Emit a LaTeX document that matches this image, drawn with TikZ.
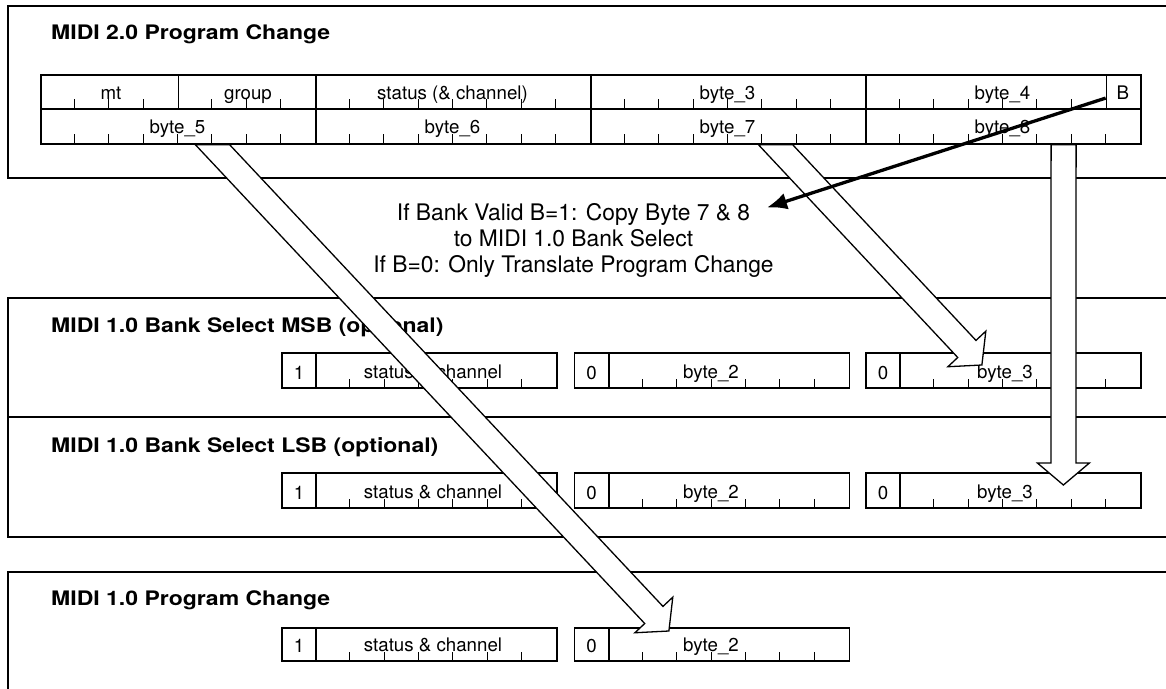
\documentclass[tikz,border=0pt]{standalone}
\usepackage{fontspec}
\setmainfont{TeX Gyre Heros}
\newfontfamily\titlefont[FakeStretch=1.15]{TeX Gyre Heros}
\usetikzlibrary{calc,arrows.meta}

\newcommand\bankseg[7]{% #1 name, #2 x, #3 top, #4 height, #5 bit text, #6 label, #7 label x
  \node[cell, minimum width=34.375pt, minimum height=#4pt] (#1a) at (#2,#3) {};
  \node[cell, minimum width=240.625pt, minimum height=#4pt] (#1b) at (#2+34.375,#3) {};
  \node[lbl] (#1at) at ($(#1a.south)+(0,-9)$) {#5};
  \node[lbl] (#1bt) at (#7,#3+#4-9) {#6};
  \foreach \k in {1,...,6} \draw[tickmark] (#2+34.375+34.375*\k,#3+#4) -- ++(0,-8);
}

\newcommand\fatarrow[2]{%
  \coordinate (fa-s) at #1;
  \coordinate (fa-t) at #2;
  \coordinate (fa-h) at ($(fa-t)!22pt!(fa-s)$);
  \coordinate (fa-l1) at ($(fa-s)!12.5pt!90:(fa-t)$);
  \coordinate (fa-l2) at ($(fa-h)!12.5pt!90:(fa-t)$);
  \coordinate (fa-r1) at ($(fa-s)!12.5pt!-90:(fa-t)$);
  \coordinate (fa-r2) at ($(fa-h)!12.5pt!-90:(fa-t)$);
  \coordinate (fa-e1) at ($(fa-s)+(-60,0)$);
  \coordinate (fa-e2) at ($(fa-s)+(60,0)$);
  \coordinate (fa-L) at (intersection of fa-l1--fa-l2 and fa-e1--fa-e2);
  \coordinate (fa-R) at (intersection of fa-r1--fa-r2 and fa-e1--fa-e2);
  \draw[hollow] (fa-L) -- (fa-l2) -- ($(fa-h)!26pt!90:(fa-t)$) -- (fa-t)
     -- ($(fa-h)!26pt!-90:(fa-t)$) -- (fa-r2) -- (fa-R) -- cycle;
}

\begin{document}
\begin{tikzpicture}[x=1pt,y=-1pt,
  boxframe/.style={draw=black, line width=1.5pt, inner sep=0pt, anchor=north west},
  cell/.style={draw=black, line width=1.8pt, inner sep=0pt, anchor=north west, minimum height=34.4pt},
  tickmark/.style={draw=black, line width=0.8pt},
  lbl/.style={font=\fontsize{18.7}{20}\selectfont, anchor=base, inner sep=0pt},
  ttl/.style={font=\titlefont\bfseries\fontsize{20}{22}\selectfont, anchor=base west, inner sep=0pt},
  note/.style={font=\fontsize{22.8}{26}\selectfont, align=center, inner sep=0pt},
  hollow/.style={draw=black, fill=white, line width=1.3pt, line join=miter},
  bline/.style={line width=3.3pt, -{Latex[length=20pt,width=17pt]}},
]
\useasboundingbox (0,0) rectangle (1166,688);
\clip (0,0) rectangle (1166,688);

% containers
\node[boxframe, minimum width=1180pt, minimum height=172pt] (g1) at (7,5) {};
\node[boxframe, minimum width=1180pt, minimum height=119pt] (g2) at (7,297) {};
\node[boxframe, minimum width=1180pt, minimum height=120pt] (g3) at (7,416) {};
\node[boxframe, minimum width=1180pt, minimum height=140pt] (g4) at (7,571) {};

% titles
\node[ttl] (t1) at (51,39) {MIDI 2.0 Program Change};
\node[ttl] (t2) at (51,332) {MIDI 1.0 Bank Select MSB (optional)};
\node[ttl] (t3) at (51,452) {MIDI 1.0 Bank Select LSB (optional)};
\node[ttl] (t4) at (51,605) {MIDI 1.0 Program Change};

% MIDI 2.0 packet
\node[cell, minimum width=137.5pt] (mt) at (40,74) {};
\node[cell, minimum width=137.5pt] (grp) at (177.5,74) {};
\node[cell, minimum width=275pt] (st) at (315,74) {};
\node[cell, minimum width=275pt] (b3) at (590,74) {};
\node[cell, minimum width=240.625pt] (b4) at (865,74) {};
\node[cell, minimum width=34.375pt] (B) at (1105.625,74) {};
\node[cell, minimum width=275pt] (b5) at (40,108.4) {};
\node[cell, minimum width=275pt] (b6) at (315,108.4) {};
\node[cell, minimum width=275pt] (b7) at (590,108.4) {};
\node[cell, minimum width=275pt] (b8) at (865,108.4) {};

\foreach \k in {1,2,3,5,6,7,9,10,11,12,13,14,15,17,18,19,20,21,22,23,25,26,27,28,29,30}
  \draw[tickmark] ({40+34.375*\k},108.4) -- ++(0,-9);
\foreach \k in {1,2,3,4,5,6,7,9,10,11,12,13,14,15,17,18,19,20,21,22,23,25,26,27,28,29,30,31}
  \draw[tickmark] ({40+34.375*\k},142.8) -- ++(0,-9);

\node[lbl] (mtl) at (111,99.4) {mt};
\node[lbl] (grpl) at (248,99.4) {group};
\node[lbl] (stl) at (452.5,99.4) {status (\& channel)};
\node[lbl] (b3l) at (727.5,99.4) {byte\_3};
\node[lbl] (b4l) at (1002.5,99.4) {byte\_4};
\node[lbl] (Bl) at (1122.8,99.4) {B};
\node[lbl] (b5l) at (177.5,133.8) {byte\_5};
\node[lbl] (b6l) at (452.5,133.8) {byte\_6};
\node[lbl] (b7l) at (727.5,133.8) {byte\_7};
\node[lbl] (b8l) at (1002.5,133.8) {byte\_8};

% note
\node[note] (note) at (573.5,240) {If Bank Valid B=1: Copy Byte 7 \& 8\\to MIDI 1.0 Bank Select\\If B=0: Only Translate Program Change};

% MIDI 1.0 rows
\bankseg{msb1}{281}{352}{35}{1}{status \& channel}{433}
\bankseg{msb2}{573.5}{352}{35}{0}{byte\_2}{711}
\bankseg{msb3}{865}{352}{35}{0}{byte\_3}{1005}
\bankseg{lsb1}{281}{472}{35}{1}{status \& channel}{433}
\bankseg{lsb2}{573.5}{472}{35}{0}{byte\_2}{711}
\bankseg{lsb3}{865}{472}{35}{0}{byte\_3}{1005}
\bankseg{pc1}{281}{627}{33}{1}{status \& channel}{433}
\bankseg{pc2}{573.5}{627}{33}{0}{byte\_2}{711}

% hollow arrows
\fatarrow{([xshift=34pt]b5.south)}{([xshift=-60.2pt,yshift=-4pt]pc2b.north)}
\fatarrow{([xshift=47pt]b7.south)}{([xshift=-38.7pt,yshift=-13pt]msb3b.north)}
\fatarrow{([xshift=60pt]b8.south)}{([xshift=42.8pt,yshift=-13pt]lsb3b.north)}

% B arrow
\coordinate (btip) at (767,207.5);
\draw[bline] ([yshift=-6pt]B.west) -- (btip);
\end{tikzpicture}
\end{document}
